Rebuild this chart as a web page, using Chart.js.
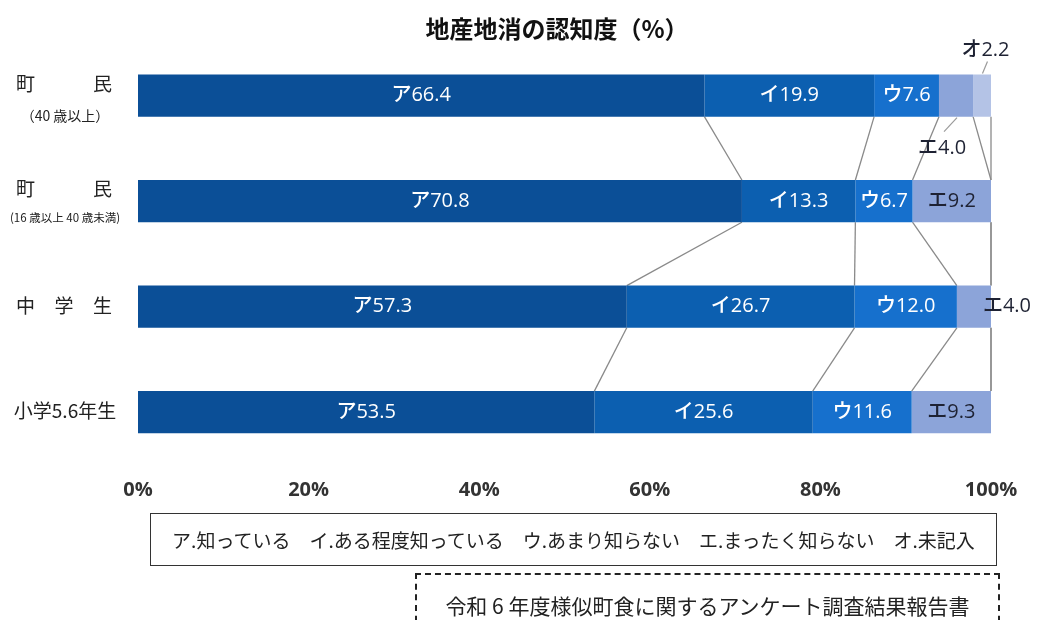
<!DOCTYPE html>
<html lang="ja">
<head>
<meta charset="utf-8">
<title>地産地消の認知度</title>
<script src="https://cdn.jsdelivr.net/npm/chart.js@4.4.1/dist/chart.umd.min.js"></script>
<style>
  body { margin: 0; background: #fff; font-family: "Noto Sans CJK JP", sans-serif; }
  #wrap { position: relative; width: 1037px; height: 620px; overflow: hidden; }
  #legend-box {
    position: absolute; left: 150px; top: 513px; width: 847px; height: 53px;
    box-sizing: border-box; border: 1px solid #333;
    display: flex; align-items: center; justify-content: center;
    font-size: 19px; color: #222; white-space: pre;
  }
  #source-box {
    position: absolute; left: 415px; top: 573px; width: 585px; height: 70px;
    box-sizing: border-box; border: 2px dashed #222;
    text-align: center; padding-top: 15px;
    font-size: 21px; color: #222;
  }
</style>
</head>
<body>
<div id="wrap">
  <canvas id="chart"></canvas>
  <div id="legend-box"></div>
  <div id="source-box"></div>
</div>
<script>
  const chartTitle = '地産地消の認知度（%）';
  const sourceText = '令和 6 年度様似町食に関するアンケート調査結果報告書';
  const categories = ['町 民', '町 民', '中 学 生', '小学5.6年生'];
  const categoryNotes = ['（40 歳以上）', '(16 歳以上 40 歳未満)', '', ''];
  const seriesNames = ['ア.知っている', 'イ.ある程度知っている', 'ウ.あまり知らない', 'エ.まったく知らない', 'オ.未記入'];
  const shitteiru = [66.4, 70.8, 57.3, 53.5];
  const aruteido = [19.9, 13.3, 26.7, 25.6];
  const amari = [7.6, 6.7, 12.0, 11.6];
  const mattaku = [4.0, 9.2, 4.0, 9.3];
  const mikinyu = [2.2, null, null, null];
  const xTicks = [0, 20, 40, 60, 80, 100];

  const seriesValues = [shitteiru, aruteido, amari, mattaku, mikinyu];
  const colors = ['#0b4f97', '#0c5fb0', '#1670cd', '#8ca4d9', '#b4c3e6'];
  const labelColors = ['#fff', '#fff', '#fff', '#1e2233', '#1e2233'];
  const FONT = '"Noto Sans CJK JP", sans-serif';
  const NUM_FONT = '"Open Sans", "Noto Sans CJK JP", sans-serif';

  document.getElementById('legend-box').textContent = seriesNames.join('　');
  document.getElementById('source-box').textContent = sourceText;

  // labels too small for their segment are moved outside, with an optional leader line
  const callouts = {
    '3-0': { dx: -14, dy: 53, line: [[1, 22], [-12, 36]] },
    '4-0': { dx: 3, dy: -45, line: [[0, -22], [5, -34]] },
    '3-2': { dx: 33, dy: 0 }
  };

  // gray lines tying segment boundaries of one bar to the next
  const connectorPlugin = {
    id: 'connectors',
    beforeDatasetsDraw(chart) {
      const { ctx, scales: { x } } = chart;
      const base = chart.getDatasetMeta(0).data;
      ctx.save();
      ctx.strokeStyle = '#8a8a8a';
      ctx.lineWidth = 1.3;
      for (let r = 0; r < categories.length - 1; r++) {
        const upper = base[r], lower = base[r + 1];
        let cumA = 0, cumB = 0;
        seriesValues.forEach((vals) => {
          cumA += vals[r] || 0;
          cumB += vals[r + 1] || 0;
          ctx.beginPath();
          ctx.moveTo(x.getPixelForValue(Math.min(cumA, 100)), upper.y + upper.height / 2);
          ctx.lineTo(x.getPixelForValue(Math.min(cumB, 100)), lower.y - lower.height / 2);
          ctx.stroke();
        });
      }
      ctx.restore();
    }
  };

  const valueLabelPlugin = {
    id: 'valueLabels',
    afterDatasetsDraw(chart) {
      const { ctx } = chart;
      ctx.save();
      ctx.font = '500 20px ' + NUM_FONT;
      ctx.textAlign = 'center';
      ctx.textBaseline = 'middle';
      chart.data.datasets.forEach((ds, d) => {
        const meta = chart.getDatasetMeta(d);
        ds.data.forEach((v, i) => {
          if (v == null) return;
          const bar = meta.data[i];
          const cx = (bar.x + bar.base) / 2;
          const text = seriesNames[d].charAt(0) + v.toFixed(1);
          const c = callouts[d + '-' + i];
          if (c) {
            if (c.line) {
              ctx.strokeStyle = '#9a9a9a';
              ctx.lineWidth = 1.2;
              ctx.beginPath();
              ctx.moveTo(cx + c.line[0][0], bar.y + c.line[0][1]);
              ctx.lineTo(cx + c.line[1][0], bar.y + c.line[1][1]);
              ctx.stroke();
            }
            ctx.fillStyle = '#1e2233';
            ctx.fillText(text, cx + c.dx, bar.y + c.dy);
          } else {
            ctx.fillStyle = labelColors[d];
            ctx.fillText(text, cx, bar.y);
          }
        });
      });
      ctx.restore();
    }
  };

  // row names on the left, spread out when written with spaces
  const categoryLabelPlugin = {
    id: 'categoryLabels',
    afterDraw(chart) {
      const { ctx, scales: { y } } = chart;
      const left = 12, right = 116;
      ctx.save();
      ctx.fillStyle = '#222';
      ctx.textBaseline = 'middle';
      ctx.textAlign = 'center';
      categories.forEach((label, i) => {
        const cy = y.getPixelForValue(i);
        const note = categoryNotes[i];
        const mainY = note ? cy - 12 : cy - 1;
        const parts = label.split(' ');
        ctx.font = '400 19px ' + FONT;
        if (parts.length > 1) {
          const w0 = ctx.measureText(parts[0]).width;
          const wn = ctx.measureText(parts[parts.length - 1]).width;
          const c0 = left + 4 + w0 / 2, cn = right - 4 - wn / 2;
          parts.forEach((p, k) => {
            ctx.fillText(p, c0 + (cn - c0) * k / (parts.length - 1), mainY);
          });
        } else {
          ctx.fillText(label, (left + right) / 2 + 1, mainY);
        }
        if (note) {
          ctx.font = (i === 0 ? '14px ' : '11.5px ') + FONT;
          ctx.fillText(note, (left + right) / 2 + 1, cy + (i === 0 ? 20 : 16));
        }
      });
      ctx.restore();
    }
  };

  new Chart(document.getElementById('chart'), {
    type: 'bar',
    data: {
      labels: categories,
      datasets: seriesValues.map((vals, k) => ({
        label: seriesNames[k],
        data: vals,
        backgroundColor: colors[k],
        borderWidth: 0,
        barPercentage: 0.4,
        categoryPercentage: 1
      }))
    },
    options: {
      indexAxis: 'y',
      responsive: true,
      maintainAspectRatio: false,
      animation: false,
      layout: { padding: { left: 123, right: 46, top: 0, bottom: 105 } },
      plugins: {
        legend: { display: false },
        tooltip: { enabled: false },
        title: {
          display: true,
          text: chartTitle,
          color: '#111',
          font: { family: FONT, size: 24, weight: 'bold', lineHeight: 1.2 },
          padding: { top: 14, bottom: 0 }
        }
      },
      scales: {
        x: {
          stacked: true,
          min: 0,
          max: 100,
          afterBuildTicks: (axis) => { axis.ticks = xTicks.map((v) => ({ value: v })); },
          grid: { display: false, drawTicks: false },
          border: { display: false },
          ticks: {
            padding: 13,
            color: '#333',
            font: { family: NUM_FONT, size: 20, weight: 'bold' },
            callback: (v) => v + '%'
          }
        },
        y: {
          stacked: true,
          grid: { display: false, drawTicks: false },
          border: { display: false },
          ticks: { display: false },
          afterFit: (axis) => { axis.width = 15; }
        }
      }
    },
    plugins: [connectorPlugin, valueLabelPlugin, categoryLabelPlugin]
  });
</script>
</body>
</html>
